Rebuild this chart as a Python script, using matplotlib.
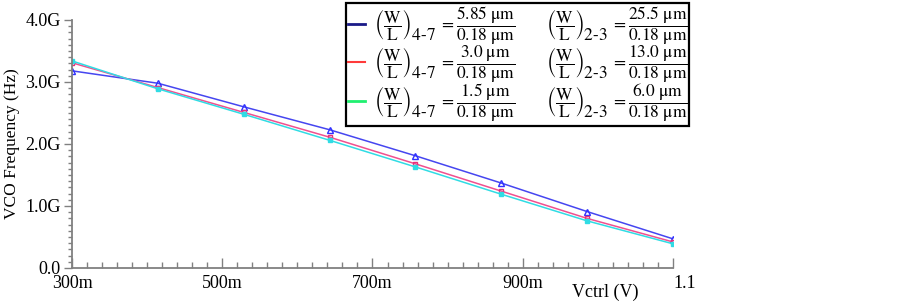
import numpy as np
import matplotlib
matplotlib.use("Agg")
import matplotlib.pyplot as plt
from matplotlib.lines import Line2D
from matplotlib.ticker import MultipleLocator

plt.rcParams['font.family'] = ['Liberation Serif', 'DejaVu Serif']
plt.rcParams['mathtext.fontset'] = 'stix'

# control voltage (V)
vctrl = np.linspace(0.3, 1.1, 8)

# VCO frequency (GHz) for the three sizings
f_585 = [3.18, 2.98, 2.60, 2.23, 1.81, 1.37, 0.91, 0.47]
f_30 = [3.31, 2.91, 2.51, 2.11, 1.68, 1.24, 0.80, 0.42]
f_15 = [3.34, 2.89, 2.48, 2.06, 1.63, 1.19, 0.76, 0.39]

w47 = ['5.85', '3.0', '1.5']
w23 = ['25.5', '13.0', '6.0']

xticks = [0.3, 0.5, 0.7, 0.9, 1.1]
xticklabels = ['300m', '500m', '700m', '900m', '1.1']
yticks = [0, 1, 2, 3, 4]
yticklabels = ['0.0', '1.0G', '2.0G', '3.0G', '4.0G']

fig = plt.figure(figsize=(9.03, 3.07), dpi=100)
ax = fig.add_axes([72 / 903, 39 / 307, 601 / 903, 248 / 307])

ax.plot(vctrl, f_585, color='#4646f0', lw=1.1, marker='^', ms=5,
        mfc='none', mec='#3030ff', mew=1.0)
ax.plot(vctrl, f_30, color='#f0508f', lw=1.1, marker='s', ms=3.5,
        mfc='none', mec='#e8307a', mew=1.0)
ax.plot(vctrl, f_15, color='#30dce4', lw=1.1, marker='s', ms=3.5,
        mfc='#30dce4', mec='#30dce4', mew=1.0)

ax.set_xlim(0.3, 1.1)
ax.set_ylim(0, 4)
ax.set_xticks(xticks)
ax.set_xticklabels(xticklabels)
ax.set_yticks(yticks)
ax.set_yticklabels(yticklabels)
ax.xaxis.set_minor_locator(MultipleLocator(0.02))
ax.yaxis.set_minor_locator(MultipleLocator(0.1))
# the 1.1 label sits to the right of its tick
last = ax.get_xticklabels()[-1]
last.set_horizontalalignment('left')

for s in ['top', 'right']:
    ax.spines[s].set_visible(False)
for s in ['left', 'bottom']:
    ax.spines[s].set_color('#808080')
    ax.spines[s].set_linewidth(1.3)

ax.tick_params(axis='x', which='major', direction='in', length=7, width=1,
               color='#808080', labelsize=13, pad=5)
ax.tick_params(axis='x', which='minor', direction='in', length=4, width=1,
               color='#808080')
ax.tick_params(axis='y', which='major', direction='out', length=6, width=1,
               color='#808080', labelsize=13, pad=2)
ax.tick_params(axis='y', which='minor', direction='out', length=3, width=1,
               color='#808080')

ax.set_ylabel('VCO Frequency (Hz)', fontsize=12.5, labelpad=4)
fig.text(605 / 903, 1 - 292 / 307, 'Vctrl (V)', fontsize=13,
         ha='center', va='center')

# subscript drawn as a rule-less display fraction so it stays full size
wl = r'\left(\dfrac{\mathrm{W}}{\mathrm{L}}\right)'
labels = []
for a, b in zip(w47, w23):
    lab = ('$' + wl + r'\genfrac{}{}{0}{0}{\ }{\mathrm{4\text{-}7}}\,'
           r'=\dfrac{' + a + r'\ \mathrm{\mu m}}{0.18\ \mathrm{\mu m}}'
           r'\qquad\;\, ' + wl + r'\genfrac{}{}{0}{0}{\ }{\mathrm{2\text{-}3}}\,'
           r'=\dfrac{' + b + r'\ \mathrm{\mu m}}{0.18\ \mathrm{\mu m}}$')
    labels.append(lab)

handles = [Line2D([], [], color='#1a1a88', lw=2),
           Line2D([], [], color='#ff3a3a', lw=1.5),
           Line2D([], [], color='#20f070', lw=2)]
leg = fig.legend(handles, labels, loc='upper left',
                 bbox_to_anchor=(346 / 903, 1 - 3 / 307), fontsize=12.5,
                 frameon=True, fancybox=False, framealpha=1,
                 edgecolor='black', handlelength=1.0, handletextpad=0.5,
                 labelspacing=-0.2, borderpad=0.1, borderaxespad=0)
leg.get_frame().set_linewidth(1.6)

fig.savefig('out.png', dpi=100)
